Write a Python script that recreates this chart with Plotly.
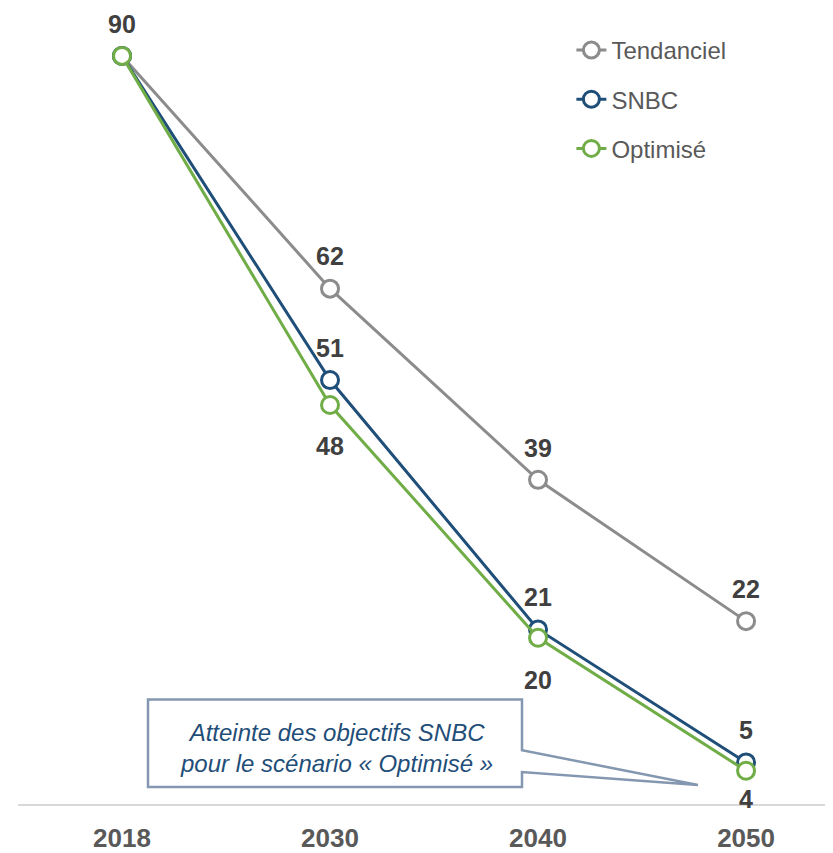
import plotly.graph_objects as go

# ---- data ----
years = ["2018", "2030", "2040", "2050"]
tendanciel = [90, 62, 39, 22]
snbc = [90, 51, 21, 5]
optimise = [90, 48, 20, 4]
callout_lines = ["Atteinte des objectifs SNBC", "pour le scénario « Optimisé »"]

# ---- style ----
OFF = 8  # page body margin of the browser
W, H = 833 - OFF, 853 - OFF
L, R, T, B = 10, 0, 0, 46
x_idx = list(range(len(years)))
X_RANGE = [-0.5, 3.418]
Y_RANGE = [0, 95.76]
FONT = "Liberation Sans, Arial, sans-serif"

series = [
    # name, values, colour, labels shown, label shifts (px)
    ("Tendanciel", tendanciel, "#8c8c8c", [True, True, True, True], [32, 33, 32, 32]),
    ("SNBC", snbc, "#1f4e79", [False, True, True, True], [32, 32, 32, 32]),
    ("Optimisé", optimise, "#70ad47", [False, True, True, True], [-41, -41, -42, -28]),
]

fig = go.Figure()
annotations = []
for name, vals, col, show, shifts in series:
    fig.add_trace(go.Scatter(
        x=x_idx, y=vals, name=name, mode="lines+markers",
        line=dict(color=col, width=3),
        marker=dict(symbol="circle", size=17, color="white", line=dict(color=col, width=3)),
        cliponaxis=False,
    ))
    for xi, v, s, dy in zip(x_idx, vals, show, shifts):
        if s:
            annotations.append(dict(
                x=xi, y=v, text=f"<b>{v}</b>", showarrow=False, yshift=dy,
                font=dict(family=FONT, size=25, color="#404040"),
                xanchor="center", yanchor="middle",
            ))

# page pixel -> data helpers for the callout shape
plot_w = W - L - R
plot_h = H - T - B
def px2x(px):
    px -= OFF
    return X_RANGE[0] + (px - L) / plot_w * (X_RANGE[1] - X_RANGE[0])
def py2y(py):
    py -= OFF
    return Y_RANGE[1] - (py - T) / plot_h * (Y_RANGE[1] - Y_RANGE[0])

pts = [(148, 702), (522, 702), (522, 753), (698, 788), (522, 775), (522, 790), (148, 790)]
path = "M " + " L ".join(f"{px2x(a):.4f},{py2y(b):.4f}" for a, b in pts) + " Z"
shapes = [dict(type="path", path=path, xref="x", yref="y",
               line=dict(color="#8497b0", width=2.5), fillcolor="white", layer="above")]

annotations.append(dict(
    x=px2x(336), y=py2y(751), xref="x", yref="y", showarrow=False,
    text="<i>" + "<br>".join(callout_lines) + "</i>",
    font=dict(family=FONT, size=24, color="#1f4e79"), align="center",
    xanchor="center", yanchor="middle",
))

fig.update_layout(
    width=W, height=H, margin=dict(l=L, r=R, t=T, b=B),
    paper_bgcolor="white", plot_bgcolor="white",
    font=dict(family=FONT, color="#595959"),
    showlegend=True,
    legend=dict(x=0.679, y=0.975, xanchor="left", yanchor="top",
                font=dict(family=FONT, size=24, color="#595959"),
                bgcolor="rgba(0,0,0,0)", tracegroupgap=15, traceorder="grouped"),
    xaxis=dict(range=X_RANGE, tickmode="array", tickvals=x_idx,
               ticktext=[f"<b>{y}</b>" for y in years],
               tickfont=dict(family=FONT, size=26, color="#595959"),
               showgrid=False, zeroline=False, showline=True,
               linecolor="#d9d9d9", linewidth=2, ticks="", ticklabelstandoff=10),
    yaxis=dict(range=Y_RANGE, visible=False, showgrid=False, zeroline=False),
    shapes=shapes, annotations=annotations,
)
for i, tr in enumerate(fig.data):
    tr.legendgroup = f"g{i}"

fig.write_html("out.html")
